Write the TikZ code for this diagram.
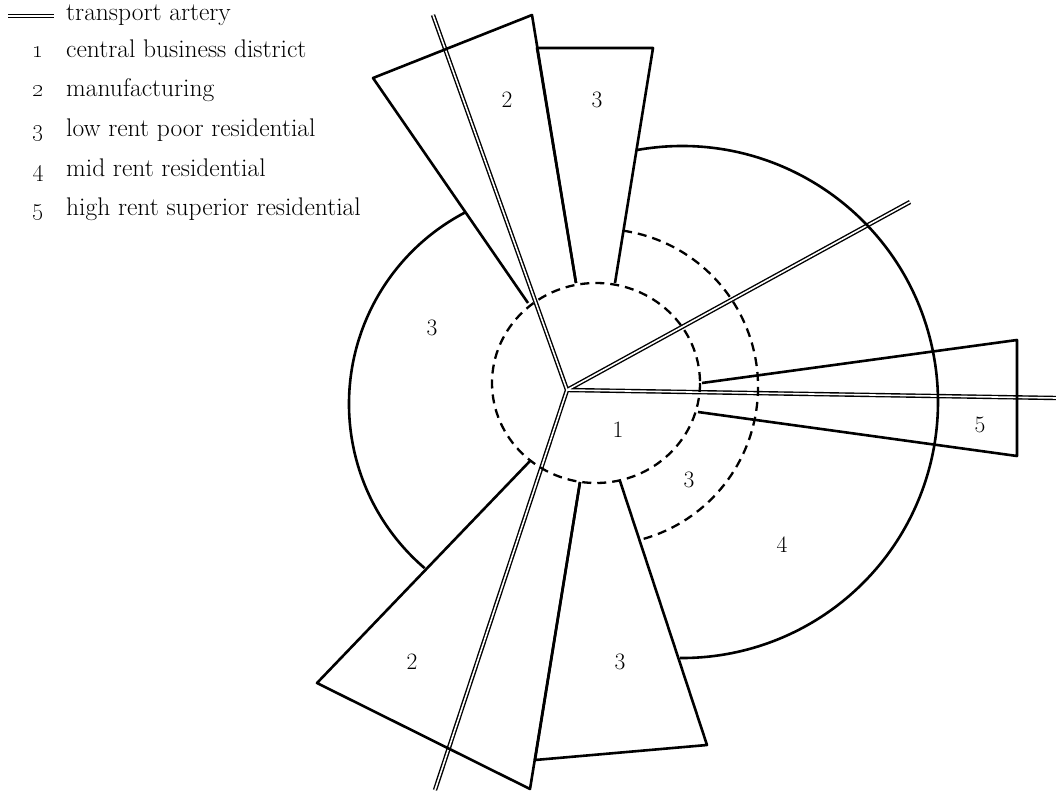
\documentclass[tikz,border=0pt]{standalone}
\usepackage{tikz}
\tikzset{zone/.style={line width=2.6pt},
  ring/.style={line width=2.3pt,dash pattern=on 9pt off 6pt},
  road/.style={line width=1.4pt,double=white,double distance=1.6pt},
  zlab/.style={inner sep=0pt},
  legtxt/.style={anchor=base west,inner sep=0pt,font=\fontsize{25.5}{30}\selectfont}}

\begin{document}
\begin{tikzpicture}[x=1pt,y=-1pt,line join=round,font=\fontsize{23.5}{28}\selectfont]
\useasboundingbox (0,0) rectangle (1056,791);
% --- transport arteries meeting at the centre
\coordinate (J) at (567,390);
\coordinate (nw) at (433,15); \coordinate (ne) at (910,202);
\coordinate (e) at (1056,398); \coordinate (sw) at (435,790);
\draw[road] (nw) -- (J) -- (sw) (J) -- (ne) (J) -- (e);
% --- rings: CBD and inner low rent belt
\draw[ring] (596,383) ellipse[x radius=104, y radius=100];
\draw[ring] (623.1,230.7) arc[start angle=-81.6, end angle=76.1, radius=158];
% --- mid rent belt and western low rent belt
\draw[zone] (637.1,150) arc[start angle=-100.1, end angle=90.4, radius=256];
\draw[zone] (424.7,568.2) arc[start angle=130.5, end angle=242.4, radius=216];
% --- sectors
\draw[zone] (528,303) -- (373,78) -- (532,15) -- (576,283);
\draw[zone] (576,283) -- (537,48) -- (653,48) -- (615,283);
\draw[zone] (702,383) -- (1017,340) -- (1017,456) -- (698,412);
\draw[zone] (530,461) -- (317,683) -- (530,789) -- (580,482);
\draw[zone] (580,482) -- (535,760) -- (707,745) -- (620,481);
% --- zone numbers
\node[zlab] (mfgN) at (507,100) {2}; \node[zlab] (lowN) at (597,100) {3};
\node[zlab] (lowW) at (432,328) {3}; \node[zlab] (cbd) at (618,430) {1};
\node[zlab] (lowE) at (689,480) {3}; \node[zlab] (mid) at (782,545) {4};
\node[zlab] (high) at (980,425) {5};
\node[zlab] (mfgS) at (412,662) {2}; \node[zlab] (lowS) at (620,662) {3};
% --- legend
\draw[road] (8,16) -- (54,16);
\node[legtxt] (leg0) at (66,21) {transport artery};
\foreach \n/\t/\y in {1/central business district/58,2/manufacturing/97,3/low rent poor residential/137,4/mid rent residential/177,5/high rent superior residential/216}
  {\node[legtxt,anchor=base] (num\n) at (38,\y) {\oldstylenums{\n}};
   \node[legtxt] (leg\n) at (66,\y) {\t};}
\end{tikzpicture}
\end{document}
